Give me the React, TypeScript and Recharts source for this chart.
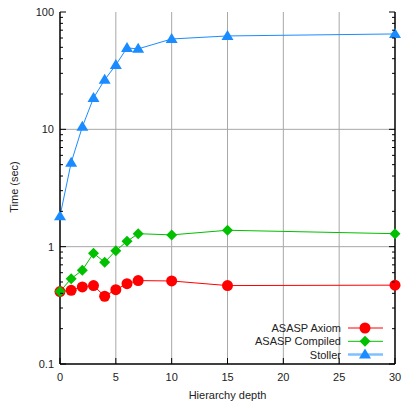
import React from 'react';
import { LineChart, Line, XAxis, YAxis, ReferenceLine } from 'recharts';

// hierarchy depth (x) and times in seconds per tool
const depth = [0, 1, 2, 3, 4, 5, 6, 7, 10, 15, 30];
const axiom = [0.414, 0.425, 0.454, 0.466, 0.378, 0.43, 0.484, 0.514, 0.51, 0.466, 0.47];
const compiled = [0.414, 0.534, 0.63, 0.88, 0.735, 0.925, 1.11, 1.29, 1.26, 1.38, 1.29];
const stoller = [1.82, 5.2, 10.5, 18.5, 26.4, 35.4, 49.4, 48.5, 58.9, 62.5, 65];

const xTicks = [0, 5, 10, 15, 20, 25, 30];
const yMajor = [0.1, 1, 10, 100];
const yMinor = [0.2, 0.3, 0.4, 0.5, 0.6, 0.7, 0.8, 0.9, 2, 3, 4, 5, 6, 7, 8, 9, 20, 30, 40, 50, 60, 70, 80, 90];
const xGrid = [5, 10, 15, 20, 25];
const yGrid = [1, 10];

const RED = '#ff0000';
const GREEN = '#00c000';
const BLUE = '#1a8cff';
const FONT = '"Liberation Sans", Arial, sans-serif';

const rows = depth.map((x, i) => ({ x, axiom: axiom[i], compiled: compiled[i], stoller: stoller[i] }));

const circle = (cx: number, cy: number, key?: any) => <circle key={key} cx={cx} cy={cy} r={5.5} fill={RED} />;
const diamond = (cx: number, cy: number, key?: any) => (
  <path key={key} d={`M${cx},${cy - 5.5}L${cx + 5.5},${cy}L${cx},${cy + 5.5}L${cx - 5.5},${cy}Z`} fill={GREEN} />
);
const triangle = (cx: number, cy: number, key?: any) => (
  <path key={key} d={`M${cx},${cy - 6}L${cx + 6},${cy + 4}L${cx - 6},${cy + 4}Z`} fill={BLUE} />
);

// y ticks drawn inward, label only for decades
const YTick = ({ x, y, payload, side }: any) => {
  const major = yMajor.includes(payload.value);
  const len = major ? 6 : 3;
  const dir = side === 'left' ? 1 : -1;
  return (
    <g>
      <line x1={x} x2={x + dir * len} y1={y} y2={y} stroke="#000" strokeWidth={1} />
      {major && side === 'left' && (
        <text x={x - 6} y={y} dy={4} textAnchor="end" fontSize={11} fontFamily={FONT} fill="#222">
          {payload.value}
        </text>
      )}
    </g>
  );
};

const XTick = ({ x, y, payload, side }: any) => {
  const dir = side === 'bottom' ? -1 : 1;
  return (
    <g>
      <line x1={x} x2={x} y1={y} y2={y + dir * 6} stroke="#000" strokeWidth={1} />
      {side === 'bottom' && (
        <text x={x} y={y + 17} textAnchor="middle" fontSize={11} fontFamily={FONT} fill="#222">
          {payload.value}
        </text>
      )}
    </g>
  );
};

const legendItems = [
  { name: 'ASASP Axiom', color: RED, line: RED, w: 1, mark: circle },
  { name: 'ASASP Compiled', color: GREEN, line: GREEN, w: 1, mark: diamond },
  { name: 'Stoller', color: BLUE, line: '#80c0ff', w: 2.5, mark: triangle },
];

export default function App() {
  return (
    <div style={{ position: 'absolute', left: 0, top: 0, width: 405, height: 401, background: '#fff' }}>
      <LineChart width={405} height={401} data={rows} margin={{ top: 12, right: 0, bottom: 0, left: 0 }}>
        <XAxis
          xAxisId="b"
          dataKey="x"
          type="number"
          domain={[0, 30]}
          ticks={xTicks}
          interval={0}
          height={37}
          tickSize={0}
          tickMargin={0}
          tickLine={false}
          axisLine={{ stroke: '#000', strokeWidth: 1.5 }}
          tick={<XTick side="bottom" />}
          label={{ value: 'Hierarchy depth', position: 'insideBottom', offset: 2, fontSize: 11, fontFamily: FONT, fill: '#222' }}
        />
        <XAxis
          xAxisId="t"
          orientation="top"
          dataKey="x"
          type="number"
          domain={[0, 30]}
          ticks={xTicks}
          interval={0}
          height={0}
          tickSize={0}
          tickMargin={0}
          tickLine={false}
          axisLine={{ stroke: '#000', strokeWidth: 1.5 }}
          tick={<XTick side="top" />}
        />
        <YAxis
          yAxisId="l"
          scale="log"
          domain={[0.1, 100]}
          allowDataOverflow
          ticks={[...yMajor, ...yMinor]}
          interval={0}
          width={60}
          tickSize={0}
          tickMargin={0}
          tickLine={false}
          axisLine={{ stroke: '#000', strokeWidth: 1.5 }}
          tick={<YTick side="left" />}
        />
        <YAxis
          yAxisId="r"
          orientation="right"
          scale="log"
          domain={[0.1, 100]}
          allowDataOverflow
          ticks={[...yMajor, ...yMinor]}
          interval={0}
          width={10}
          tickSize={0}
          tickMargin={0}
          tickLine={false}
          axisLine={{ stroke: '#000', strokeWidth: 1.5 }}
          tick={<YTick side="right" />}
        />
        {xGrid.map((v) => (
          <ReferenceLine key={'gx' + v} x={v} xAxisId="b" yAxisId="l" stroke="#a8a8a8" strokeWidth={1} />
        ))}
        {yGrid.map((v) => (
          <ReferenceLine key={'gy' + v} y={v} xAxisId="b" yAxisId="l" stroke="#a8a8a8" strokeWidth={1} />
        ))}
        <Line
          xAxisId="b"
          yAxisId="l"
          dataKey="axiom"
          type="linear"
          stroke={RED}
          strokeWidth={1}
          isAnimationActive={false}
          dot={(p: any) => circle(p.cx, p.cy, p.index)}
          activeDot={false}
        />
        <Line
          xAxisId="b"
          yAxisId="l"
          dataKey="compiled"
          type="linear"
          stroke={GREEN}
          strokeWidth={1}
          isAnimationActive={false}
          dot={(p: any) => diamond(p.cx, p.cy, p.index)}
          activeDot={false}
        />
        <Line
          xAxisId="b"
          yAxisId="l"
          dataKey="stoller"
          type="linear"
          stroke={BLUE}
          strokeWidth={1}
          isAnimationActive={false}
          dot={(p: any) => triangle(p.cx, p.cy, p.index)}
          activeDot={false}
        />
      </LineChart>
      <svg width={405} height={401} style={{ position: 'absolute', left: 0, top: 0, pointerEvents: 'none' }}>
        <text
          transform="translate(18,187) rotate(-90)"
          textAnchor="middle"
          fontSize={11}
          fontFamily={FONT}
          fill="#222"
        >
          Time (sec)
        </text>
        {legendItems.map((it, i) => {
          const cy = 328 + i * 13.3;
          return (
            <g key={it.name}>
              <text x={341} y={cy} dy={4} textAnchor="end" fontSize={11} fontFamily={FONT} fill="#222">
                {it.name}
              </text>
              <line x1={348} x2={383} y1={cy} y2={cy} stroke={it.line} strokeWidth={it.w} />
              {it.mark(365, cy)}
            </g>
          );
        })}
      </svg>
    </div>
  );
}
